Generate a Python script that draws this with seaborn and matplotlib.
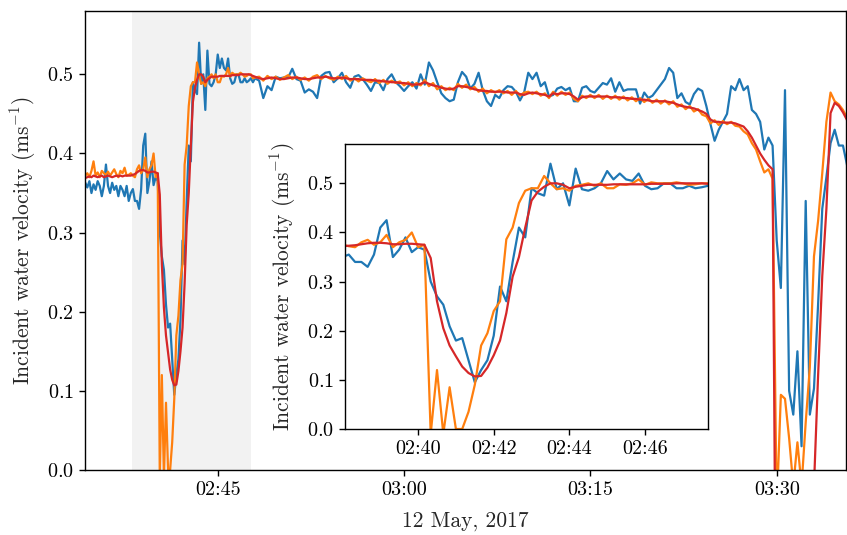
import numpy as np
import pandas as pd
import seaborn as sns
import matplotlib.pyplot as plt
import matplotlib.dates as mdates

# 10 s samples, 02:34:20 -> 02:48:00
sensor_a_fine = [0.363, 0.357, 0.365, 0.350, 0.361, 0.354, 0.365, 0.359, 0.346, 0.359,
                 0.386, 0.359, 0.350, 0.363, 0.354, 0.359, 0.346, 0.359, 0.354, 0.346,
                 0.359, 0.340,
                 0.350, 0.355, 0.340, 0.340, 0.330, 0.355, 0.410, 0.425, 0.350, 0.365,
                 0.390, 0.360, 0.370, 0.365, 0.300, 0.270, 0.253, 0.209, 0.180, 0.185,
                 0.140, 0.095, 0.120, 0.140, 0.190, 0.290, 0.260, 0.340, 0.410, 0.390,
                 0.490, 0.480, 0.475, 0.540, 0.488, 0.500, 0.455, 0.530, 0.488, 0.485,
                 0.490, 0.500, 0.525, 0.508, 0.520, 0.508, 0.505, 0.520, 0.495, 0.488,
                 0.490, 0.500, 0.500, 0.490, 0.490, 0.495, 0.490, 0.492, 0.495, 0.490,
                 0.495]
sensor_b_fine = [0.372, 0.375, 0.370, 0.378, 0.390, 0.372, 0.376, 0.370, 0.378, 0.375,
                 0.373, 0.377, 0.372, 0.376, 0.380, 0.374, 0.370, 0.378, 0.375, 0.382,
                 0.372, 0.373,
                 0.375, 0.372, 0.370, 0.380, 0.385, 0.375, 0.380, 0.395, 0.370, 0.380,
                 0.385, 0.400, 0.370, 0.375, -0.010, 0.120, -0.010, 0.085, 0.000, 0.000,
                 0.035, 0.090, 0.170, 0.195, 0.240, 0.260, 0.386, 0.410, 0.460, 0.485,
                 0.490, 0.490, 0.515, 0.500, 0.488, 0.490, 0.485, 0.495, 0.497, 0.500,
                 0.495, 0.500, 0.490, 0.490, 0.498, 0.497, 0.500, 0.508, 0.497, 0.502,
                 0.500, 0.500, 0.500, 0.502, 0.500, 0.497, 0.498, 0.500, 0.500, 0.495,
                 0.496]
smoothed_fine = [0.369, 0.370, 0.371, 0.370, 0.372, 0.371, 0.370, 0.371, 0.372, 0.370,
                 0.371, 0.372, 0.371, 0.370, 0.371, 0.372, 0.371, 0.372, 0.371, 0.372,
                 0.372, 0.372,
                 0.372, 0.373, 0.374, 0.376, 0.378, 0.379, 0.379, 0.378, 0.376, 0.376,
                 0.377, 0.377, 0.376, 0.375, 0.348, 0.260, 0.205, 0.170, 0.148, 0.127,
                 0.114, 0.107, 0.108, 0.125, 0.150, 0.180, 0.236, 0.310, 0.350, 0.410,
                 0.465, 0.483, 0.493, 0.500, 0.500, 0.497, 0.490, 0.493, 0.495, 0.497,
                 0.497, 0.497, 0.497, 0.498, 0.498, 0.498, 0.498, 0.498, 0.498, 0.499,
                 0.499, 0.499, 0.499, 0.500, 0.500, 0.500, 0.500, 0.500, 0.499, 0.498,
                 0.497]

# 20 s samples, 02:48:20 -> 03:36:00
sensor_a_coarse = [0.492, 0.470, 0.485, 0.480, 0.497, 0.495, 0.496, 0.496, 0.507, 0.494,
                   0.492, 0.477, 0.481, 0.478, 0.470, 0.498, 0.502, 0.503, 0.490, 0.495,
                   0.502, 0.490, 0.483, 0.497, 0.499, 0.494, 0.487, 0.479, 0.490, 0.489,
                   0.480, 0.494, 0.500, 0.490, 0.485, 0.479, 0.485, 0.490, 0.482, 0.500,
                   0.487, 0.515, 0.505, 0.490, 0.476, 0.470, 0.466, 0.468, 0.490, 0.503,
                   0.497, 0.482, 0.488, 0.502, 0.480, 0.466, 0.460, 0.474, 0.470, 0.480,
                   0.485, 0.484, 0.478, 0.467, 0.477, 0.502, 0.494, 0.502, 0.485, 0.490,
                   0.472,
                   0.474, 0.482, 0.484, 0.480, 0.483, 0.466, 0.466, 0.483, 0.485, 0.479,
                   0.477, 0.483, 0.489, 0.487, 0.495, 0.478, 0.490, 0.479, 0.481, 0.481,
                   0.481, 0.463, 0.477, 0.470, 0.473, 0.480, 0.487, 0.494, 0.508, 0.502,
                   0.470, 0.476, 0.465, 0.462, 0.475, 0.482, 0.479, 0.460,
                   0.437, 0.416, 0.430, 0.440, 0.450, 0.485, 0.480, 0.494, 0.480, 0.485,
                   0.455, 0.450, 0.440, 0.405, 0.420, 0.410, 0.290, 0.230, 0.480, 0.100,
                   0.070, 0.150, 0.030, 0.340, 0.070, 0.103, 0.210, 0.330, 0.370, 0.413,
                   0.430, 0.410, 0.410, 0.385, 0.400]
sensor_b_coarse = [0.497, 0.492, 0.498, 0.494, 0.497, 0.493, 0.496, 0.499, 0.494, 0.497,
                   0.493, 0.496, 0.492, 0.497, 0.499, 0.494, 0.498, 0.495, 0.493, 0.497,
                   0.494, 0.498, 0.492, 0.495, 0.491, 0.495, 0.492, 0.490, 0.494, 0.489,
                   0.493, 0.488, 0.492, 0.489, 0.491, 0.486, 0.490, 0.485, 0.489, 0.486,
                   0.493, 0.485, 0.489, 0.481, 0.485, 0.480, 0.483, 0.480, 0.488, 0.483,
                   0.487, 0.481, 0.484, 0.478, 0.482, 0.476, 0.480, 0.477, 0.480, 0.476,
                   0.479, 0.474, 0.479, 0.473, 0.477, 0.478, 0.475, 0.478, 0.473, 0.476,
                   0.470,
                   0.478, 0.473, 0.478, 0.474, 0.477, 0.469, 0.466, 0.473, 0.470, 0.474,
                   0.470, 0.474, 0.469, 0.473, 0.469, 0.473, 0.468, 0.472, 0.467, 0.471,
                   0.466, 0.470, 0.465, 0.469, 0.464, 0.468, 0.463, 0.467, 0.462, 0.466,
                   0.459, 0.462, 0.456, 0.460, 0.453, 0.456, 0.449, 0.447,
                   0.438, 0.442, 0.436, 0.441, 0.437, 0.440, 0.435, 0.434, 0.428, 0.424,
                   0.413, 0.405, 0.390, 0.376, 0.380, 0.368, -0.050, 0.095, 0.090, 0.040,
                   -0.020, 0.035, -0.020, 0.060, 0.130, 0.270, 0.315, 0.375, 0.440, 0.477,
                   0.466, 0.462, 0.455, 0.445, 0.440]
smoothed_coarse = [0.495, 0.494, 0.495, 0.496, 0.495, 0.494, 0.494, 0.495, 0.496, 0.496,
                   0.495, 0.494, 0.494, 0.495, 0.496, 0.496, 0.497, 0.496, 0.495, 0.495,
                   0.496, 0.495, 0.494, 0.494, 0.494, 0.493, 0.493, 0.493, 0.492, 0.492,
                   0.491,
                   0.491, 0.490, 0.490, 0.489, 0.489, 0.488, 0.487, 0.487, 0.488, 0.490,
                   0.488, 0.486, 0.485, 0.483, 0.482, 0.481, 0.482, 0.485, 0.485, 0.484,
                   0.483, 0.481, 0.480, 0.479, 0.479, 0.478, 0.478, 0.478, 0.478, 0.477,
                   0.477, 0.477, 0.475, 0.474, 0.476, 0.477, 0.476, 0.475, 0.474, 0.472,
                   0.476, 0.475, 0.476, 0.476, 0.475, 0.472, 0.468, 0.471, 0.472, 0.472,
                   0.472, 0.472, 0.472, 0.472, 0.471, 0.471, 0.471, 0.470, 0.470, 0.469,
                   0.469, 0.468, 0.468, 0.467, 0.466, 0.466, 0.466, 0.466, 0.465, 0.464,
                   0.462, 0.460, 0.459, 0.458, 0.457, 0.455, 0.453, 0.450,
                   0.443, 0.440, 0.440, 0.439, 0.439, 0.439, 0.438, 0.436, 0.434, 0.428,
                   0.420, 0.410, 0.400, 0.392, 0.385, 0.380, -0.350, -0.350, -0.350, -0.350,
                   -0.350, -0.350, -0.350, -0.350, -0.350, -0.020, 0.120, 0.245, 0.330, 0.451,
                   0.464, 0.460, 0.452, 0.442, 0.435]

series_names = ['sensor_a', 'sensor_b', 'smoothed']
series_colors = ['#1f77b4', '#ff7f0e', '#d62728']

times_fine = pd.date_range('2017-05-12 02:34:20', '2017-05-12 02:48:00', freq='10s')
times_coarse = pd.date_range('2017-05-12 02:48:20', '2017-05-12 03:36:00', freq='20s')
times = times_fine.append(times_coarse)

frames = []
for name, fine, coarse in zip(series_names,
                              [sensor_a_fine, sensor_b_fine, smoothed_fine],
                              [sensor_a_coarse, sensor_b_coarse, smoothed_coarse]):
    assert len(fine) == len(times_fine), (name, len(fine), len(times_fine))
    assert len(coarse) == len(times_coarse), (name, len(coarse), len(times_coarse))
    frames.append(pd.DataFrame({'time': times, 'velocity': list(fine) + list(coarse),
                                'series': name}))
df = pd.concat(frames, ignore_index=True)

sns.set_theme(style='ticks')
plt.rcParams['font.family'] = ['cmr10', 'DejaVu Serif']
plt.rcParams['mathtext.fontset'] = 'cm'
plt.rcParams['axes.formatter.use_mathtext'] = True
plt.rcParams['axes.unicode_minus'] = False
plt.rcParams['axes.edgecolor'] = 'black'
plt.rcParams['axes.linewidth'] = 1.0
plt.rcParams['xtick.color'] = 'black'
plt.rcParams['ytick.color'] = 'black'

ylabel = 'Incident water velocity (ms$^{-1}$)'
zoom_start = pd.Timestamp('2017-05-12 02:38:04')
zoom_end = pd.Timestamp('2017-05-12 02:47:40')
tick_size = 14.5
label_size = 15.5


def draw_lines(ax):
    sns.lineplot(data=df, x='time', y='velocity', hue='series', hue_order=series_names,
                 palette=series_colors, estimator=None, legend=False, linewidth=1.6, ax=ax)
    ax.set_ylim(0, 0.58)
    ax.set_yticks([0.0, 0.1, 0.2, 0.3, 0.4, 0.5])
    ax.xaxis.set_major_formatter(mdates.DateFormatter('%H:%M'))
    ax.tick_params(labelsize=tick_size, length=4.5, width=1)
    for s in ax.spines.values():
        s.set_visible(True)


fig = plt.figure(figsize=(8.47, 5.35), dpi=100)
ax = fig.add_axes([0.1004, 0.1215, 0.8985, 0.8579])
ax.axvspan(zoom_start, zoom_end, color='0.95', zorder=0, lw=0)
draw_lines(ax)
ax.set_xlim(pd.Timestamp('2017-05-12 02:34:19'), pd.Timestamp('2017-05-12 03:35:35'))
ax.xaxis.set_major_locator(mdates.MinuteLocator(byminute=[0, 15, 30, 45]))
ax.set_xlabel('12 May, 2017', fontsize=label_size, labelpad=9)
ax.set_ylabel(ylabel, fontsize=label_size, labelpad=6)

axin = fig.add_axes([0.4073, 0.1981, 0.4286, 0.5327])
axin.set_facecolor('white')
draw_lines(axin)
axin.set_xlim(zoom_start, zoom_end)
axin.xaxis.set_major_locator(mdates.MinuteLocator(byminute=range(0, 60, 2)))
axin.set_xlabel('')
axin.set_ylabel(ylabel, fontsize=label_size, labelpad=6)

fig.savefig('out.png', dpi=100)
